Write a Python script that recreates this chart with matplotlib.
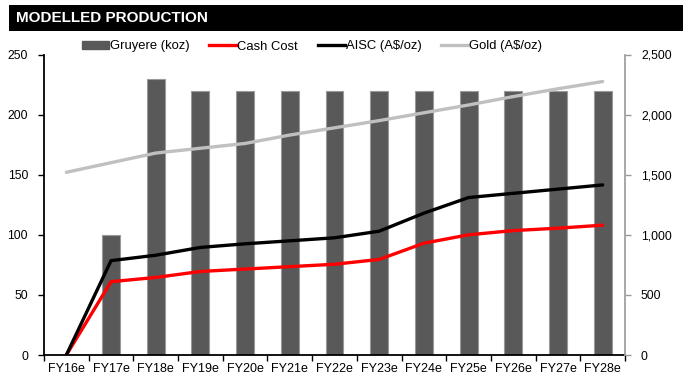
import matplotlib
matplotlib.use("Agg")
import matplotlib.pyplot as plt
from matplotlib.patches import Rectangle
from matplotlib.lines import Line2D
from matplotlib.patches import Patch
from matplotlib.ticker import FuncFormatter, FixedLocator
import numpy as np

plt.rcParams['font.family'] = ['Liberation Sans', 'DejaVu Sans']

categories = ["FY16e", "FY17e", "FY18e", "FY19e", "FY20e", "FY21e", "FY22e",
              "FY23e", "FY24e", "FY25e", "FY26e", "FY27e", "FY28e"]
gruyere_koz = [0, 100, 230, 220, 220, 220, 220, 220, 220, 220, 220, 220, 220]
cash_cost = [0, 610, 645, 695, 715, 735, 755, 795, 930, 1000, 1035, 1055, 1080]
aisc = [0, 785, 830, 895, 925, 950, 975, 1030, 1180, 1310, 1345, 1380, 1415]
gold = [1520, 1600, 1680, 1720, 1760, 1830, 1890, 1950, 2015, 2080, 2150, 2215, 2275]
title = "MODELLED PRODUCTION"

W, H = 683, 376
fig = plt.figure(figsize=(W / 100, H / 100), dpi=100)

# title band
fig.patches.append(Rectangle((9 / W, 1 - 31 / H), 1 - 9 / W, 26 / H,
                             transform=fig.transFigure, facecolor='black',
                             edgecolor='none', zorder=0))
fig.text(16.5 / W, 1 - 18 / H, title, color='white', fontsize=11, fontweight='bold',
         va='center', ha='left')

ax = fig.add_axes([44 / W, 1 - 355 / H, (625 - 44) / W, (355 - 54.5) / H])
ax2 = ax.twinx()

x = np.arange(len(categories))
ax.bar(x, gruyere_koz, width=0.4, color='#595959', edgecolor='#9a9a9a',
       linewidth=0.8, zorder=2)
ax.set_ylim(0, 250)
ax.set_xlim(-0.5, len(categories) - 0.5)
ax.set_yticks(np.arange(0, 251, 50))
ax.set_xticks(x)
ax.set_xticklabels(categories, fontsize=9)
ax.tick_params(axis='x', length=0, pad=6)
ax.xaxis.set_minor_locator(FixedLocator(np.arange(-0.5, len(categories), 1.0)))
ax.tick_params(axis='x', which='minor', length=4, width=1, color='black', direction='out')
ax.tick_params(axis='y', labelsize=8.7, length=4, width=1, direction='out', pad=7.5)

for s in ['top', 'right']:
    ax.spines[s].set_visible(False)
ax.spines['left'].set_linewidth(1.3)
ax.spines['bottom'].set_linewidth(1.3)

ax2.plot(x, gold, color='#c0c0c0', lw=2.4, zorder=3, solid_capstyle='round')
ax2.plot(x, cash_cost, color='#ff0000', lw=2.4, zorder=4, solid_capstyle='round')
ax2.plot(x, aisc, color='black', lw=2.4, zorder=5, solid_capstyle='round')
ax2.set_ylim(0, 2500)
ax2.set_yticks(np.arange(0, 2501, 500))
ax2.yaxis.set_major_formatter(FuncFormatter(lambda v, p: f"{int(v):,}"))
ax2.tick_params(axis='y', labelsize=8.7, length=4, width=1, color='#999999',
                direction='out', pad=7.5)
for s in ['top', 'left', 'bottom']:
    ax2.spines[s].set_visible(False)
ax2.spines['right'].set_color('#a0a0a0')
ax2.spines['right'].set_linewidth(1.3)

handles = [Patch(facecolor='#595959', edgecolor='#595959'),
           Line2D([], [], color='#ff0000', lw=2.4),
           Line2D([], [], color='black', lw=2.4),
           Line2D([], [], color='#c0c0c0', lw=2.4)]
labels = ["Gruyere (koz)", "Cash Cost", "AISC (A$/oz)", "Gold (A$/oz)"]
fig.legend(handles, labels, loc='center left', bbox_to_anchor=(82 / W, 1 - 46.5 / H),
           ncol=4, frameon=False, fontsize=9.4, handlelength=2.1, handleheight=0.5,
           handletextpad=0.05, columnspacing=1.5, borderaxespad=0, borderpad=0)

fig.savefig("out.png", dpi=100)
